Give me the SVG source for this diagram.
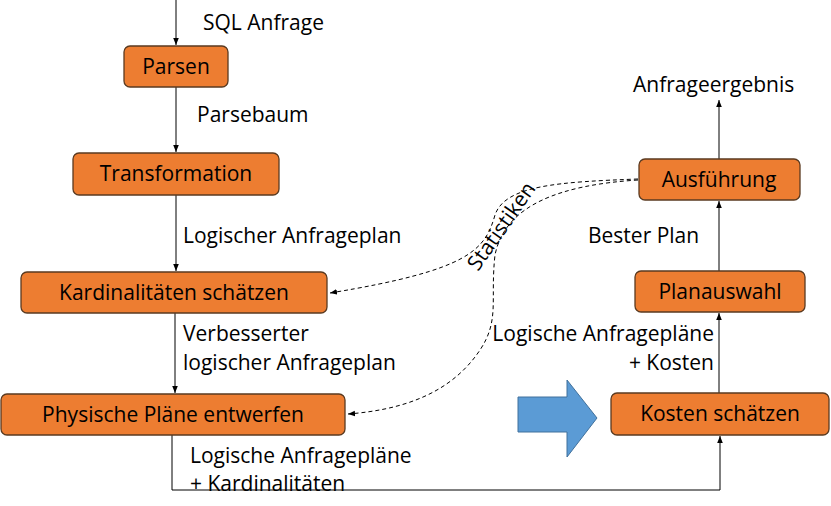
<svg xmlns="http://www.w3.org/2000/svg" width="831" height="506" viewBox="0 0 831 506">
<defs>
<marker id="a" viewBox="0 0 10 10" refX="10" refY="5" markerWidth="7" markerHeight="7" orient="auto-start-reverse"><path d="M0,1 L10,5 L0,9 z" fill="#000"/></marker>
</defs>
<style>
.n rect{fill:#ED7D31;stroke:#5a3a20;stroke-width:1.3}
text{font-family:"Open Sans",sans-serif;font-size:21px;fill:#000}
.n text{text-anchor:middle}
.c path{fill:none;stroke:#000;stroke-width:1}
.c .d{stroke-dasharray:4,3}
</style>
<rect width="831" height="506" fill="#fff"/>
<g class="c">
<path d="M176,0 V45" marker-end="url(#a)"/>
<path d="M176,87 V152" marker-end="url(#a)"/>
<path d="M176,195 V271" marker-end="url(#a)"/>
<path d="M175,313 V393" marker-end="url(#a)"/>
<path d="M172,435 V490 H720 V436" marker-end="url(#a)"/>
<path d="M719,393 V313" marker-end="url(#a)"/>
<path d="M719,271 V201" marker-end="url(#a)"/>
<path d="M719,159 V100" marker-end="url(#a)"/>
<path class="d" d="M638,179 C560,182 505,185 495,215 C485,250 470,270 330,293" marker-end="url(#a)"/>
<path class="d" d="M638,180 C560,185 505,205 495,255 C490,300 500,320 480,350 C450,395 400,410 348,414" marker-end="url(#a)"/>
</g>
<path d="M518,397 H567 V380 L597,418 L567,457 V432 H518 Z" fill="#5B9BD5" stroke="#41719C" stroke-width="1"/>
<text x="203" y="30">SQL Anfrage</text>
<text x="197" y="122">Parsebaum</text>
<text x="183" y="243">Logischer Anfrageplan</text>
<text x="183" y="341">Verbesserter</text>
<text x="183" y="370">logischer Anfrageplan</text>
<text x="190" y="463">Logische Anfragepläne</text>
<text x="190" y="491">+ Kardinalitäten</text>
<text x="633" y="92">Anfrageergebnis</text>
<text x="588" y="243">Bester Plan</text>
<text x="714" y="341" text-anchor="end">Logische Anfragepläne</text>
<text x="714" y="370" text-anchor="end">+ Kosten</text>
<text transform="translate(478,272) rotate(-55)" font-size="19">Statistiken</text>
<g class="n" id="parsen"><rect x="124" y="46" width="104" height="41" rx="6"/><text x="176" y="74">Parsen</text></g>
<g class="n" id="transformation"><rect x="73" y="153" width="206" height="42" rx="6"/><text x="176" y="181">Transformation</text></g>
<g class="n" id="kardinalitaeten"><rect x="21" y="272" width="306" height="41" rx="6"/><text x="174" y="300">Kardinalitäten schätzen</text></g>
<g class="n" id="physisch"><rect x="1" y="394" width="344" height="41" rx="6"/><text x="173" y="422">Physische Pläne entwerfen</text></g>
<g class="n" id="ausfuehrung"><rect x="639" y="159" width="161" height="41" rx="6"/><text x="719" y="187">Ausführung</text></g>
<g class="n" id="planauswahl"><rect x="635" y="271" width="170" height="41" rx="6"/><text x="720" y="299">Planauswahl</text></g>
<g class="n" id="kosten"><rect x="611" y="393" width="218" height="42" rx="6"/><text x="720" y="421">Kosten schätzen</text></g>
</svg>
